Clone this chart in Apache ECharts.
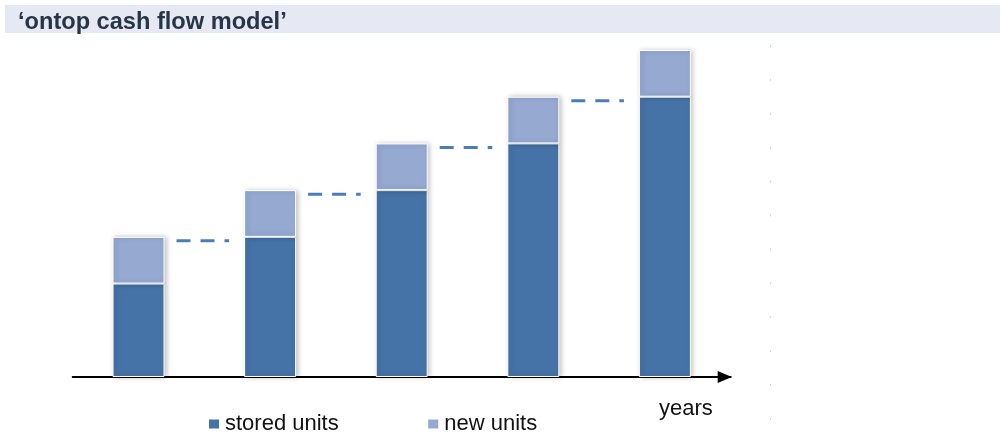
<!DOCTYPE html>
<html>
<head>
<meta charset="utf-8">
<title>ontop cash flow model</title>
<script src="https://cdn.jsdelivr.net/npm/echarts@6/dist/echarts.min.js"></script>
<style>
  html, body { margin: 0; padding: 0; background: #ffffff; }
  #chart { width: 1004px; height: 434px; }
</style>
</head>
<body>
<div id="chart"></div>
<script>
// Years shown along the time axis (labels hidden, the axis only carries the arrow)
const years = ['Y1', 'Y2', 'Y3', 'Y4', 'Y5'];
// Units carried over from previous years
const storedUnits = [2, 3, 4, 5, 6];
// Units added during the year
const newUnits = [1, 1, 1, 1, 1];

const BAR_W = 52;
const COLOR_STORED = '#4573a7';
const COLOR_NEW = '#95a9d1';
const COLOR_LINK = '#4a7ebb';

// Each year's total becomes the next year's stored base; draw a dashed link between them
const links = storedUnits.slice(0, -1).map((s, i) => [i, s + newUnits[i]]);

const chart = echarts.init(document.getElementById('chart'), null, { renderer: 'canvas' });

const barStyle = (color) => ({
  color: color,
  borderColor: '#ffffff',
  borderWidth: 1,
  shadowBlur: 5,
  shadowColor: 'rgba(0,0,0,0.25)',
  shadowOffsetX: 2,
  shadowOffsetY: 0
});

chart.setOption({
  animation: false,
  backgroundColor: '#ffffff',
  title: {
    text: '\u2018ontop cash flow model\u2019',
    left: 13,
    top: 5,
    textStyle: {
      fontFamily: 'Liberation Sans, Arial, sans-serif',
      fontWeight: 'bold',
      fontSize: 23.6,
      color: '#263646'
    }
  },
  graphic: [
    {
      type: 'rect',
      z: -10,
      shape: { x: 5, y: 5, width: 995, height: 28 },
      style: { fill: '#e6e9f3' },
      silent: true
    },
    {
      type: 'line',
      z: -5,
      shape: { x1: 770.5, y1: 45, x2: 770.5, y2: 422 },
      style: { stroke: '#d4d4d4', lineWidth: 1, lineDash: [2, 31.9] },
      silent: true
    },
    {
      type: 'text',
      left: 659,
      top: 398,
      style: {
        text: 'years',
        font: '22px "Liberation Sans", Arial, sans-serif',
        fill: '#111111'
      }
    }
  ],
  legend: {
    data: ['stored units', 'new units'],
    left: 204,
    top: 408,
    icon: 'rect',
    itemWidth: 10,
    itemHeight: 9,
    itemGap: 89.5,
    itemStyle: { borderWidth: 0, shadowBlur: 0, shadowOffsetX: 0 },
    textStyle: {
      fontFamily: 'Liberation Sans, Arial, sans-serif',
      fontSize: 22,
      color: '#111111',
      padding: [0, 0, 0, 1]
    }
  },
  grid: { left: 72.7, right: 273.3, top: 50, bottom: 57 },
  xAxis: {
    type: 'category',
    data: years,
    axisLine: {
      show: true,
      symbol: ['none', 'triangle'],
      symbolSize: [12, 14],
      symbolOffset: [0, -6],
      lineStyle: { color: '#000000', width: 2 }
    },
    axisTick: { show: false },
    axisLabel: { show: false }
  },
  yAxis: {
    type: 'value',
    min: 0,
    max: 7,
    show: false,
    splitLine: { show: false }
  },
  series: [
    {
      name: 'stored units',
      type: 'bar',
      stack: 'units',
      barWidth: BAR_W,
      data: storedUnits,
      itemStyle: barStyle(COLOR_STORED)
    },
    {
      name: 'new units',
      type: 'bar',
      stack: 'units',
      barWidth: BAR_W,
      data: newUnits,
      itemStyle: barStyle(COLOR_NEW)
    },
    {
      name: 'carry-over',
      type: 'custom',
      data: links,
      encode: { x: 0, y: 1 },
      z: 3,
      renderItem: function (params, api) {
        const i = api.value(0);
        const v = api.value(1);
        const p1 = api.coord([i, v]);
        const p2 = api.coord([i + 1, v]);
        const half = BAR_W / 2;
        const y = p1[1] + 4;
        return {
          type: 'line',
          shape: { x1: p1[0] + half + 12, y1: y, x2: p2[0] - half - 15, y2: y },
          style: { stroke: COLOR_LINK, lineWidth: 3, lineDash: [14, 10], fill: null }
        };
      }
    }
  ]
});
</script>
</body>
</html>
